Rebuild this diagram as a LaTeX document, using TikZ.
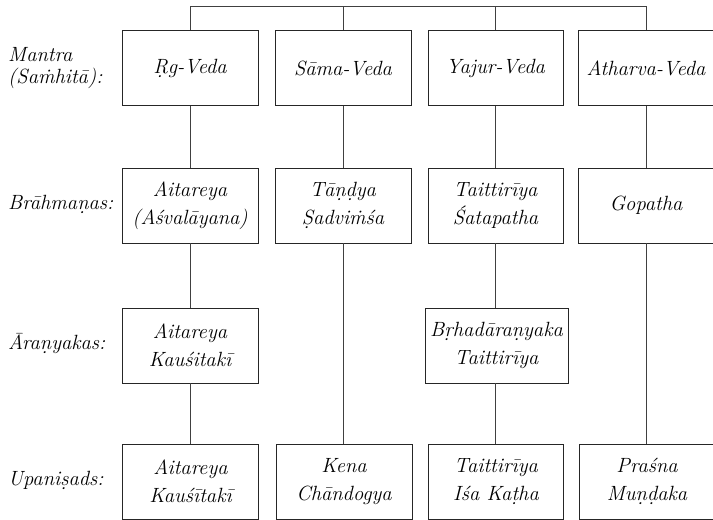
\documentclass[tikz,border=0pt]{standalone}
\newcommand{\mdotab}{\accent"02D9 m}
\begin{document}
\begin{tikzpicture}[x=1pt,y=-1pt,
  box/.style={draw=black!85, line width=0.9pt, minimum width=136pt, minimum height=75pt,
    inner sep=0pt, align=center, font=\itshape\fontsize{20.6}{28}\selectfont},
  lbl/.style={inner sep=0pt, align=left, font=\itshape\fontsize{20.6}{22}\selectfont},
  conn/.style={draw=black!75, line width=0.9pt}]
\useasboundingbox (0,0) rectangle (713,520);
\coordinate (top) at (0,6);
% row 1
\node[box] (rv) at (190,68) {Ṛg-Veda};
\node[box] (sv) at (343,68) {Sāma-Veda};
\node[box, minimum width=135pt] (yv) at (495.5,68) {Yajur-Veda};
\node[box] (av) at (646,68) {Atharva-Veda};
% row 2
\node[box] (b1) at (190,205.5) {Aitareya\\(Aśvalāyana)};
\node[box] (b2) at (343,205.5) {Tāṇḍya\\Ṣadvi\mdotab śa};
\node[box, minimum width=135pt] (b3) at (495.5,205.5) {Taittirīya\\Śatapatha};
\node[box] (b4) at (646,205.5) {Gopatha};
% row 3
\node[box] (a1) at (190,345.5) {Aitareya\\Kauśitakī};
\node[box, minimum width=143pt] (a3) at (496.5,345.5) {Bṛhadāraṇyaka\\Taittirīya};
% row 4
\node[box] (u1) at (190.5,481.5) {Aitareya\\Kauśītakī};
\node[box] (u2) at (344,481.5) {Kena\\Chāndogya};
\node[box, minimum width=135pt] (u3) at (496,481.5) {Taittirīya\\Iśa Kaṭha};
\node[box] (u4) at (647,481.5) {Praśna\\Muṇḍaka};
% labels
\node[lbl, anchor=west] (lm) at (8,68) {Mantra\\(Sa\mdotab hitā):};
\node[lbl, anchor=base west] (lb) at (8,209) {Brāhmaṇas:};
\node[lbl, anchor=base west] (la) at (8,349) {Āraṇyakas:};
\node[lbl, anchor=base west] (lu) at (8,485) {Upaniṣads:};
% top bracket
\draw[conn] (rv.north) -- (rv.north |- top) -- (av.north |- top) -- (av.north);
\draw[conn] (sv.north) -- (sv.north |- top);
\draw[conn] (yv.north) -- (yv.north |- top);
% column 1
\draw[conn] (rv.south) -- (rv.south |- b1.north);
\draw[conn] (b1.south) -- (b1.south |- a1.north);
\draw[conn] (a1.south) -- (a1.south |- u1.north);
% column 2
\draw[conn] (sv.south) -- (sv.south |- b2.north);
\draw[conn] (b2.south) -- (b2.south |- u2.north);
% column 3
\draw[conn] (yv.south) -- (yv.south |- b3.north);
\draw[conn] (b3.south) -- (b3.south |- a3.north);
\draw[conn] (a3.south -| b3.south) -- (b3.south |- u3.north);
% column 4
\draw[conn] (av.south) -- (av.south |- b4.north);
\draw[conn] (b4.south) -- (b4.south |- u4.north);
\end{tikzpicture}
\end{document}
